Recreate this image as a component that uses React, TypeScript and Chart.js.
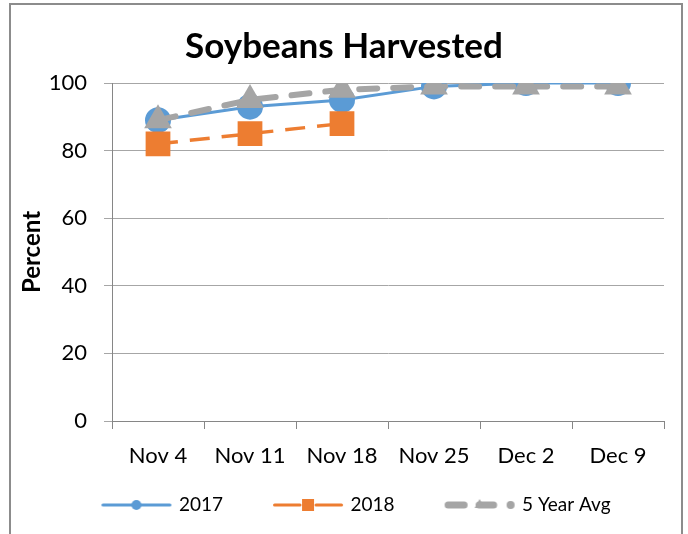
import React, { useEffect, useRef } from "react";
import { Chart, registerables } from "chart.js";

Chart.register(...registerables);

const categories = ["Nov 4", "Nov 11", "Nov 18", "Nov 25", "Dec 2", "Dec 9"];
const values2017 = [89, 93, 95, 99, 100, 100];
const values2018 = [82, 85, 88, null, null, null];
const valuesAvg = [89, 95, 98, 99, 99, 99];
const seriesNames = ["2017", "2018", "5 Year Avg"];
const yMin = 0;
const yMax = 100;
const yStep = 20;

const BLUE = "#5b9bd5";
const ORANGE = "#ed7d31";
const GRAY = "#a5a5a5";
const FONT = "Lato";

function legendImage(kind: number): HTMLCanvasElement {
  const W = 100;
  const H = 20;
  const c = document.createElement("canvas");
  c.width = W;
  c.height = H;
  const ctx = c.getContext("2d") as CanvasRenderingContext2D;
  const cy = 10;
  ctx.lineCap = "round";
  if (kind === 0) {
    ctx.strokeStyle = BLUE;
    ctx.lineWidth = 3;
    ctx.beginPath();
    ctx.moveTo(29.5, cy);
    ctx.lineTo(96.5, cy);
    ctx.stroke();
    ctx.fillStyle = BLUE;
    ctx.beginPath();
    ctx.arc(63, cy, 5, 0, Math.PI * 2);
    ctx.fill();
  } else if (kind === 1) {
    ctx.strokeStyle = ORANGE;
    ctx.lineWidth = 3;
    ctx.beginPath();
    ctx.moveTo(29.5, cy);
    ctx.lineTo(55, cy);
    ctx.moveTo(71, cy);
    ctx.lineTo(96.5, cy);
    ctx.stroke();
    ctx.fillStyle = ORANGE;
    ctx.fillRect(57, cy - 6, 12, 12);
  } else {
    ctx.strokeStyle = GRAY;
    ctx.lineWidth = 7;
    ctx.beginPath();
    ctx.moveTo(31.5, cy);
    ctx.lineTo(47.5, cy);
    ctx.moveTo(62.5, cy);
    ctx.lineTo(77, cy);
    ctx.stroke();
    ctx.fillStyle = GRAY;
    ctx.beginPath();
    ctx.moveTo(63, cy - 6);
    ctx.lineTo(58, cy + 3);
    ctx.lineTo(68, cy + 3);
    ctx.closePath();
    ctx.fill();
    ctx.beginPath();
    ctx.arc(94, cy, 4, 0, Math.PI * 2);
    ctx.fill();
  }
  return c;
}

export default function App() {
  const ref = useRef<HTMLCanvasElement | null>(null);

  useEffect(() => {
    if (!ref.current) return;
    const images = [legendImage(0), legendImage(1), legendImage(2)];
    const tickFont = { family: FONT, size: 22 };
    const chart = new Chart(ref.current, {
      type: "line",
      data: {
        labels: categories,
        datasets: [
          {
            label: seriesNames[0],
            data: values2017,
            borderColor: BLUE,
            backgroundColor: BLUE,
            borderWidth: 3,
            pointStyle: "circle",
            pointRadius: 13,
            pointBorderWidth: 0,
            pointBackgroundColor: BLUE,
            order: 3,
          },
          {
            label: seriesNames[1],
            data: values2018,
            borderColor: ORANGE,
            backgroundColor: ORANGE,
            borderWidth: 3.5,
            borderDash: [20, 12],
            pointStyle: "rect",
            pointRadius: 17.5,
            pointBorderWidth: 0,
            pointBackgroundColor: ORANGE,
            order: 2,
          },
          {
            label: seriesNames[2],
            data: valuesAvg,
            borderColor: GRAY,
            backgroundColor: GRAY,
            borderWidth: 6,
            borderDash: [18, 16],
            borderCapStyle: "round",
            pointStyle: "triangle",
            pointRadius: 16,
            pointBorderWidth: 0,
            pointBackgroundColor: GRAY,
            order: 1,
          },
        ],
      },
      options: {
        animation: false,
        responsive: false,
        layout: { padding: { left: 12, right: 12, top: 10, bottom: 9.5 } },
        plugins: {
          tooltip: { enabled: false },
          title: {
            display: true,
            text: "Soybeans Harvested",
            color: "#000",
            font: { family: FONT, size: 35, weight: "bold" },
            padding: { top: 15.5, bottom: 15.5 },
          },
          legend: {
            position: "bottom",
            labels: {
              usePointStyle: true,
              pointStyleWidth: 92,
              padding: 26,
              color: "#000",
              font: { family: FONT, size: 19 },
              sort: (a: any, b: any) => a.datasetIndex - b.datasetIndex,
              generateLabels: (ch: any) => {
                const items = Chart.defaults.plugins.legend.labels.generateLabels(ch);
                return items.map((it: any) => ({ ...it, pointStyle: images[it.datasetIndex] }));
              },
            },
          },
        },
        scales: {
          x: {
            offset: true,
            grid: {
              offset: true,
              drawOnChartArea: false,
              drawTicks: true,
              tickLength: 8,
              color: "#868686",
            },
            border: { display: true, color: "#868686" },
            ticks: { padding: 13.3, color: "#000", font: tickFont, maxRotation: 0, autoSkip: false },
            afterFit: (s: any) => {
              s.height = 48.5;
            },
          },
          y: {
            min: yMin,
            max: yMax,
            ticks: { stepSize: yStep, padding: 17, color: "#000", font: tickFont },
            grid: { color: "#a6a6a6", tickLength: 8, tickColor: "#a6a6a6" },
            border: { display: true, color: "#868686" },
            title: {
              display: true,
              text: "Percent",
              color: "#000",
              font: { family: FONT, size: 24, weight: "bold" },
              padding: { top: 5.6, bottom: 0 },
            },
            afterFit: (s: any) => {
              s.width = 100;
            },
          },
          yRight: {
            position: "right",
            display: true,
            grid: { display: false },
            border: { display: false },
            ticks: { display: false },
            afterFit: (s: any) => {
              s.width = 12;
            },
          },
        },
      },
    } as any);
    return () => chart.destroy();
  }, []);

  return (
    <div
      style={{
        position: "fixed",
        left: 0,
        top: 0,
        width: 688,
        height: 534,
        overflow: "hidden",
        background: "#fff",
      }}
    >
      <canvas ref={ref} width={688} height={534} style={{ position: "absolute", left: 0, top: 0 }} />
      <div
        style={{
          position: "absolute",
          left: 9,
          top: 3,
          width: 670,
          height: 600,
          border: "2px solid #8c8c8c",
          pointerEvents: "none",
        }}
      />
    </div>
  );
}
